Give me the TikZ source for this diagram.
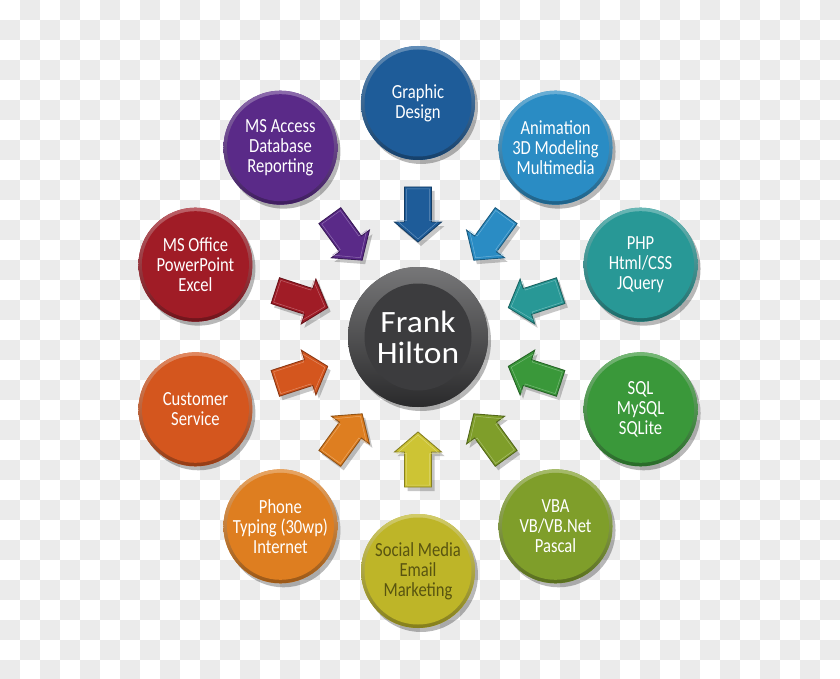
\documentclass[tikz,border=0pt]{standalone}
\usepackage{fontspec}
\setmainfont{Carlito}[FakeStretch=0.83]
\newfontfamily\ctrfont{Carlito}[FakeStretch=1.08]
\usetikzlibrary{shadows,calc}
\definecolor{bggray}{RGB}{235,235,235}
\definecolor{cGD}{RGB}{30,92,153}
\definecolor{cAN}{RGB}{42,140,196}
\definecolor{cPHP}{RGB}{40,152,150}
\definecolor{cSQL}{RGB}{58,152,58}
\definecolor{cVBA}{RGB}{127,158,42}
\definecolor{cSOC}{RGB}{190,181,40}
\definecolor{cPH}{RGB}{222,126,32}
\definecolor{cCS}{RGB}{212,86,30}
\definecolor{cMSO}{RGB}{160,28,38}
\definecolor{cMSA}{RGB}{90,42,136}
\definecolor{cCTR}{RGB}{60,60,62}
\definecolor{aSOC}{RGB}{205,196,52}
\definecolor{olivetext}{RGB}{88,84,16}
\tikzset{
  bubble/.style={circle, minimum size=114pt, inner sep=0pt, align=center,
    fill=#1, text=white, font=\fontsize{20}{20}\selectfont,
    drop shadow={shadow xshift=3pt, shadow yshift=-4pt, opacity=0.28, fill=black},
    path picture={
      \shade[shading angle=45, top color=#1!70!white, bottom color=#1!70!black]
        (path picture bounding box.south west) rectangle (path picture bounding box.north east);
      \fill[#1] (path picture bounding box.center) circle (53.5pt);}},
  arrowfill/.style={fill=#1, draw=#1!65!black, line width=0.9pt, line join=miter},
}
\begin{document}
\begin{tikzpicture}[x=1pt,y=1pt]
\useasboundingbox (0,0) rectangle (840,-679);
\clip (0,0) rectangle (840,-679);
\fill[white] (0,0) rectangle (840,-679);
\foreach \i in {0,...,41}{
  \foreach \j in {0,...,33}{
    \ifodd\numexpr\i+\j\relax
      \fill[bggray] (\i*20,-\j*20) rectangle ++(20,-20);
    \fi
  }
}
\coordinate (c0) at (418,-337);
% arrows
\foreach \ang/\col in {90/cGD,54/cAN,18/cPHP,-18/cSQL,-54/cVBA,-90/aSOC,-126/cPH,-162/cCS,162/cMSO,126/cMSA}{
  \begin{scope}[shift={($(c0)+(\ang:95)+(3,-4)$)}, rotate=\ang+180]
    \fill[black, opacity=0.22] (0,0) -- (-20,23.5) -- (-20,13.5) -- (-55,13.5) -- (-55,-13.5) -- (-20,-13.5) -- (-20,-23.5) -- cycle;
  \end{scope}
  \begin{scope}[shift={($(c0)+(\ang:95)$)}, rotate=\ang+180]
    \coordinate (tip\ang) at (0,0);
    \filldraw[arrowfill=\col] (tip\ang) -- (-20,23.5) -- (-20,13.5) -- (-55,13.5) -- (-55,-13.5) -- (-20,-13.5) -- (-20,-23.5) -- cycle;
    \draw[\col!55!white, line width=0.5pt, opacity=0.7] (-3,0) -- (-21.5,21) -- (-21.5,11.5) -- (-53,11.5) -- (-53,-11.5) -- (-21.5,-11.5) -- (-21.5,-21) -- cycle;
  \end{scope}
}
% outer bubbles
\node[bubble=cGD] (gd) at ($(c0)+(90:234)$) {Graphic\\Design};
\node[bubble=cAN] (an) at ($(c0)+(54:234)$) {Animation\\3D Modeling\\Multimedia};
\node[bubble=cPHP] (php) at ($(c0)+(18:234)$) {PHP\\Html/CSS\\JQuery};
\node[bubble=cSQL] (sql) at ($(c0)+(-18:234)$) {SQL\\MySQL\\SQLite};
\node[bubble=cVBA] (vba) at ($(c0)+(-54:234)$) {VBA\\VB/VB.Net\\Pascal};
\node[bubble=cSOC, text=olivetext] (soc) at ($(c0)+(-90:234)$) {Social Media\\Email\\Marketing};
\node[bubble=cPH] (ph) at ($(c0)+(-126:234)$) {Phone\\Typing (30wp)\\Internet};
\node[bubble=cCS] (cs) at ($(c0)+(-162:234)$) {Customer\\Service};
\node[bubble=cMSO] (mso) at ($(c0)+(162:234)$) {MS Office\\PowerPoint\\Excel};
\node[bubble=cMSA] (msa) at ($(c0)+(126:234)$) {MS Access\\Database\\Reporting};
% center
\node[bubble=cCTR, minimum size=140pt, font=\ctrfont\fontsize{31}{31}\selectfont] (ctr) at (c0) {Frank\\Hilton};
\end{tikzpicture}
\end{document}
